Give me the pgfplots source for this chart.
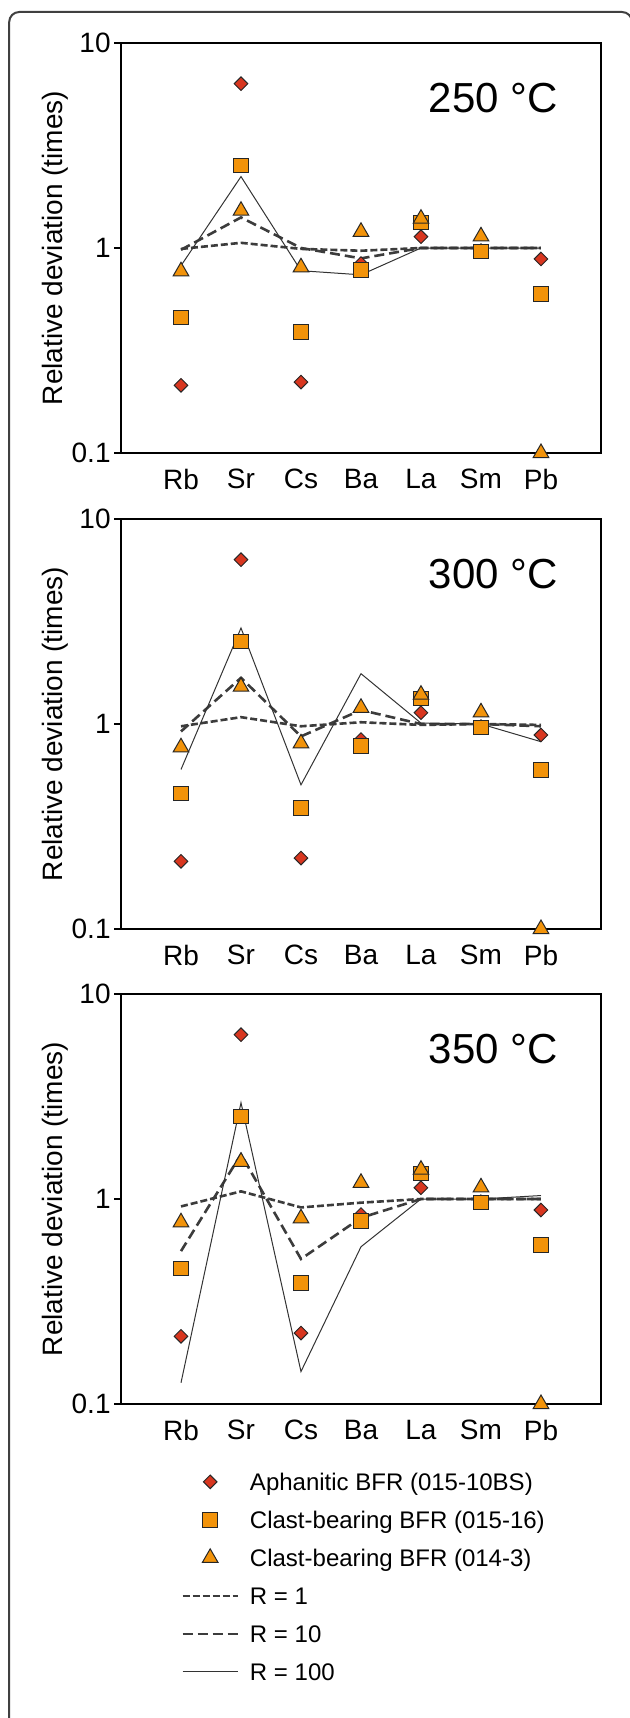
\documentclass[border=0pt]{standalone}
\usepackage{fontspec}
\setmainfont{Liberation Sans}
\usepackage{pgfplots}
\usepackage{pgfplotstable}
\pgfplotsset{compat=1.18}

\definecolor{dRed}{HTML}{D8361F}
\definecolor{dOrange}{HTML}{F2930A}
\definecolor{lineGray}{HTML}{3C3C3C}

% measured samples (same in every panel): Rb Sr Cs Ba La Sm Pb
\pgfplotstableread{
x dia sq tri
1 0.214 0.458 0.77
2 6.33  2.52  1.52
3 0.222 0.39  0.805
4 0.84  0.78  1.2
5 1.135 1.335 1.39
6 0.97  0.96  1.14
7 0.884 0.596 0.1
}\samples

% model curves for R = 1, 10, 100
\pgfplotstableread{
x r1 r10 r100
1 0.99 0.98 0.82
2 1.06 1.41 2.23
3 0.99 1.00 0.775
4 0.97 0.89 0.74
5 1.00 1.00 1.00
6 1.00 1.00 1.00
7 1.00 1.00 1.00
}\tA
\pgfplotstableread{
x r1 r10 r100
1 0.975 0.92 0.60
2 1.08  1.68 2.94
3 0.975 0.87 0.505
4 1.02  1.17 1.76
5 0.99  1.00 1.01
6 1.00  1.00 1.00
7 0.99  0.975 0.82
}\tB
\pgfplotstableread{
x r1 r10 r100
1 0.92 0.557 0.127
2 1.09 1.65  2.95
3 0.91 0.51  0.144
4 0.96 0.81  0.585
5 1.00 1.00  1.00
6 1.00 1.00  1.00
7 1.00 1.00  1.04
}\tC

\pgfplotsset{
  legline/.style={legend image code/.code={%
    \draw[mark repeat=2,mark phase=2,##1] plot coordinates {(0pt,4.3pt) (13.75pt,4.3pt) (27.5pt,4.3pt)};}},
  mkdia/.style={only marks, mark=square*, mark size=2.4pt,
    mark options={rotate=45, fill=dRed, draw=black!85, line width=0.5pt}, legline},
  mksq/.style={only marks, mark=square*, mark size=3.6pt,
    mark options={fill=dOrange, draw=black!85, line width=0.5pt}, legline},
  mktri/.style={only marks, mark=triangle*, mark size=4.5pt,
    mark options={fill=dOrange, draw=black!85, line width=0.5pt}, legline},
  lnone/.style={lineGray, line width=1.3pt, dash pattern=on 3.5pt off 1.5pt, no marks, legline},
  lnten/.style={lineGray, line width=1.3pt, dash pattern=on 5pt off 2.5pt, no marks, legline},
  lnhun/.style={black!80, line width=0.5pt, no marks, legline},
  tempframe/.style={
    scale only axis, width=240pt, height=205pt, anchor=north west,
    xmin=0, xmax=8, ymin=0.1, ymax=10,
    xtick={1,...,7}, xticklabels={Rb,Sr,Cs,Ba,La,Sm,Pb},
    ytick={0.1,1,10}, yticklabels={0.1,1,10},
    yminorticks=false, tick pos=left,
    x tick style={draw=none},
    y tick style={black, line width=0.9pt},
    tick align=outside, major tick length=3.5pt,
    axis line style={line width=1pt},
    ticklabel style={font=\fontsize{14}{16}\selectfont},
    xticklabel style={yshift=-1pt},
    yticklabel style={inner sep=1.5pt},
    ylabel={Relative deviation (times)},
    ylabel style={font=\fontsize{14}{16}\selectfont,
      at={(axis description cs:-0.1375,0.5)}, anchor=center},
    clip=false,
  },
}

\newcommand{\panelplots}[2]{%
  \addplot[lnone, forget plot] table[x=x, y=r1] {#1};
  \addplot[lnten, forget plot] table[x=x, y=r10] {#1};
  \addplot[lnhun, forget plot] table[x=x, y=r100] {#1};
  \addplot[mkdia, forget plot] table[x=x, y=dia] {\samples};
  \addplot[mksq, forget plot] table[x=x, y=sq] {\samples};
  \addplot[mktri, forget plot] table[x=x, y=tri] {\samples};
  \node[anchor=base east, inner sep=0pt, font=\fontsize{21}{24}\selectfont]
    at ([xshift=-21.5pt, yshift=-34.5pt]rel axis cs:1,1) {#2};
}

\begin{document}
\begin{tikzpicture}
\useasboundingbox (0,0) rectangle (314.5pt,-859pt);
\draw[line width=1pt, black!75, rounded corners=5pt] (4.6pt,-6pt) rectangle (316pt,-875pt);

\begin{semilogyaxis}[tempframe, at={(60.5pt,-21.5pt)}]
\panelplots{\tA}{250 °C}
\end{semilogyaxis}

\begin{semilogyaxis}[tempframe, at={(60.5pt,-259.5pt)}]
\panelplots{\tB}{300 °C}
\end{semilogyaxis}

\begin{semilogyaxis}[tempframe, at={(60.5pt,-497pt)},
  legend cell align=left,
  legend style={at={(axis description cs:0.125,-0.1659)}, anchor=north west,
    draw=none, fill=none, inner sep=0pt, row sep=7pt, column sep=5.5pt,
    font=\fontsize{12}{14}\selectfont,
    nodes={inner sep=0pt, text height=9pt, text depth=3pt, anchor=base west}}]
\panelplots{\tC}{350 °C}
\addlegendimage{mkdia}
\addlegendentry{Aphanitic BFR (015-10BS)}
\addlegendimage{mksq}
\addlegendentry{Clast-bearing BFR (015-16)}
\addlegendimage{mktri}
\addlegendentry{Clast-bearing BFR (014-3)}
\addlegendimage{lnone}
\addlegendentry{R = 1}
\addlegendimage{lnten}
\addlegendentry{R = 10}
\addlegendimage{lnhun}
\addlegendentry{R = 100}
\end{semilogyaxis}
\end{tikzpicture}
\end{document}
